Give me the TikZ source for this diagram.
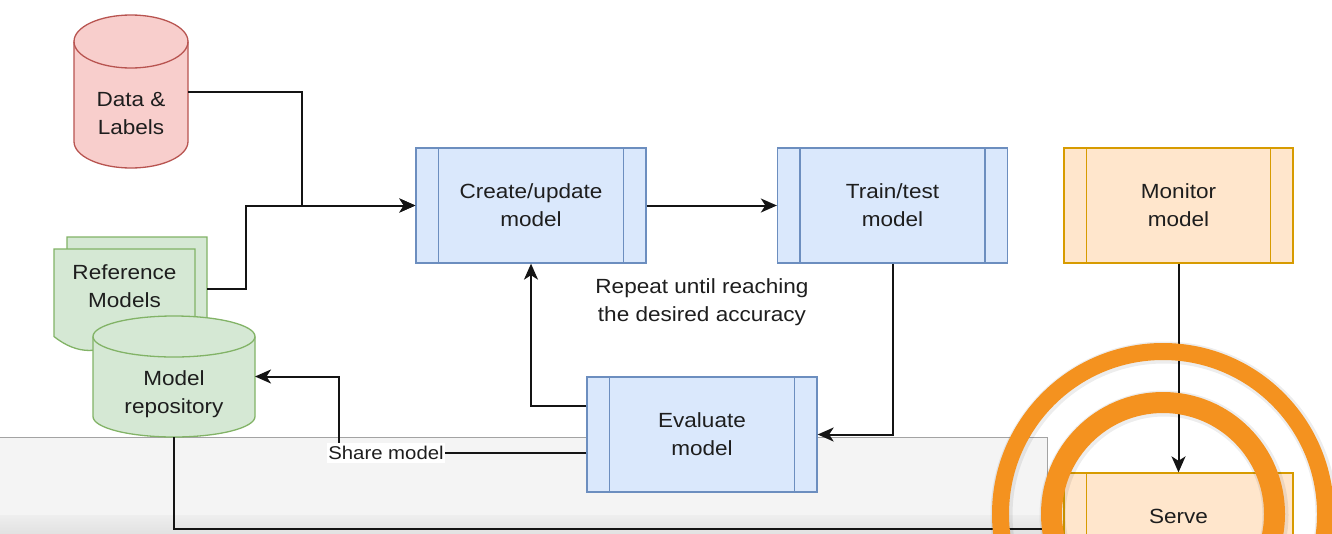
\documentclass[tikz,border=0pt]{standalone}
\usepackage{fontspec}
\setmainfont{Liberation Sans}[FakeStretch=1.1]
\usetikzlibrary{arrows.meta}

\definecolor{blueF}{HTML}{DAE8FC}
\definecolor{blueD}{HTML}{6C8EBF}
\definecolor{greenF}{HTML}{D5E8D4}
\definecolor{greenD}{HTML}{82B366}
\definecolor{redF}{HTML}{F8CECC}
\definecolor{redD}{HTML}{B85450}
\definecolor{orangeF}{HTML}{FFE6CC}
\definecolor{orangeD}{HTML}{D79B00}
\definecolor{ringC}{HTML}{F4921F}
\definecolor{stripF}{HTML}{F4F4F4}
\definecolor{stripA}{HTML}{EEEEEE}
\definecolor{stripB}{HTML}{E2E2E2}
\definecolor{stripD}{HTML}{A3A3A3}
\definecolor{txt}{HTML}{1E1E1E}

% cylinder: x1 y1 x2 y2 ry fill draw (y grows downwards)
\newcommand\cylpath[7]{%
  \pgfmathsetmacro\cyCx{(#1+#3)/2}%
  \pgfmathsetmacro\cyRx{(#3-#1)/2}%
  \pgfmathsetmacro\cyT{#2+#5}%
  \pgfmathsetmacro\cyB{#4-#5}%
  \pgfmathsetmacro\cyKx{0.5523*\cyRx}%
  \pgfmathsetmacro\cyKy{0.5523*#5}%
  \path[fill=#6, draw=#7, line width=1.3pt]
    (#1,\cyT) -- (#1,\cyB)
    .. controls (#1,{\cyB+\cyKy}) and ({\cyCx-\cyKx},#4) .. (\cyCx,#4)
    .. controls ({\cyCx+\cyKx},#4) and (#3,{\cyB+\cyKy}) .. (#3,\cyB)
    -- (#3,\cyT)
    .. controls (#3,{\cyT-\cyKy}) and ({\cyCx+\cyKx},#2) .. (\cyCx,#2)
    .. controls ({\cyCx-\cyKx},#2) and (#1,{\cyT-\cyKy}) .. (#1,\cyT) -- cycle;
  \draw[draw=#7, line width=1.3pt]
    (#1,\cyT)
    .. controls (#1,{\cyT+\cyKy}) and ({\cyCx-\cyKx},{\cyT+#5}) .. (\cyCx,{\cyT+#5})
    .. controls ({\cyCx+\cyKx},{\cyT+#5}) and (#3,{\cyT+\cyKy}) .. (#3,\cyT);
}

% document sheet with wavy bottom: x y w h fill draw
\newcommand\docshape[6]{%
  \path[fill=#5, draw=#6, line width=1.3pt]
    (#1,#2) -- ({#1+#3},#2) -- ({#1+#3},{#2+0.85*#4})
    .. controls ({#1+#3-#3/6},{#2+0.67*#4}) and ({#1+#3/2+#3/6},{#2+0.67*#4}) .. ({#1+#3/2},{#2+0.85*#4})
    .. controls ({#1+#3/2-#3/6},{#2+1.03*#4}) and ({#1+#3/6},{#2+1.03*#4}) .. (#1,{#2+0.85*#4})
    -- cycle;
}

\tikzset{
  procbox/.style 2 args={draw=#2, fill=#1, line width=1.3pt,
    minimum width=230pt, minimum height=115pt, inner sep=0pt, align=center,
    path picture={\draw[draw=#2, line width=1.3pt]
      ([xshift=22.5pt]path picture bounding box.north west) -- ([xshift=22.5pt]path picture bounding box.south west)
      ([xshift=-22.5pt]path picture bounding box.north east) -- ([xshift=-22.5pt]path picture bounding box.south east);}},
  hit/.style={shape=rectangle, inner sep=0pt, outer sep=0pt},
  lbl/.style={align=center, inner sep=0pt},
  conn/.style={draw=black!92, line width=2pt,
    -{Stealth[length=16pt, width=14pt, inset=4.5pt]}},
  sharelbl/.style={fill=white, inner xsep=1.5pt, inner ysep=3pt,
    font=\fontsize{18.5}{24}\selectfont},
  ring/.style={draw=ringC},
  ringshade/.style={draw=black, opacity=0.07},
}

\begin{document}
\begin{tikzpicture}[x=1pt, y=-1pt,
  every node/.style={font=\fontsize{20.5}{28}\selectfont, text=txt}]
\useasboundingbox (0,0) rectangle (1332,533);
\clip (0,0) rectangle (1332,533);
\fill[white] (0,0) rectangle (1332,533);

% grey panel along the bottom
\fill[stripF] (0,437) rectangle (1047,515);
\shade[top color=stripA, bottom color=stripB] (0,515) rectangle (1047,533);
\draw[stripD, line width=1pt] (0,437) -- (1047,437) -- (1047,533);

% stores and documents
\cylpath{74}{15}{188}{168}{26.5}{redF}{redD}
\docshape{67}{237}{140}{103}{greenF}{greenD}
\docshape{54}{249}{141}{103}{greenF}{greenD}
\cylpath{93}{316}{255}{437}{20.5}{greenF}{greenD}

\node[hit, minimum width=114pt, minimum height=153pt] (data) at (131,91.5) {};
\node[lbl] (datatext) at (131,114) {Data \&\\Labels};
\node[hit, minimum width=140pt, minimum height=103pt] (refm) at (137,288.5) {};
\node[lbl] (refmtext) at (124.5,286) {Reference\\Models};
\node[hit, minimum width=162pt, minimum height=121pt] (repo) at (174,376.5) {};
\node[lbl] (repotext) at (174,394.5) {Model\\repository};

% process steps
\node[procbox={blueF}{blueD}] (create) at (531,205.5) {Create/update\\model};
\node[procbox={blueF}{blueD}] (train) at (892.5,205.5) {Train/test\\model};
\node[procbox={blueF}{blueD}] (eval) at (702,434.5) {Evaluate\\model};
\node[procbox={orangeF}{orangeD}, minimum width=229pt] (monitor) at (1178.5,205.5) {Monitor\\model};
\node[procbox={orangeF}{orangeD}, minimum width=229pt] (serve) at (1178.5,530.5) {Serve\\\phantom{model}};

\node[lbl] (repeat) at (702,302) {Repeat until reaching\\the desired accuracy};

% connectors
\draw[conn] (data.east) -- ++(114,0) |- (create.west);
\draw[conn] (refm.east) -- ++(39,0) |- (create.west);
\draw[conn] (create.east) -- (train.west);
\draw[conn] (train.south) |- (eval.east);
\draw[conn] ([yshift=28.5pt]eval.west) -| (create.south);
\draw[conn] ([yshift=-18.5pt]eval.west) -- ++(-247,0) |- (repo.east);
\node[sharelbl] (share) at (386,453) {Share model};
\draw[conn] (repo.south) |- ([yshift=1.5pt]serve.west);
\draw[conn] (monitor.south) -- (serve.north);

% highlight rings
\draw[ringshade, line width=22pt] (1164,515) circle[radius=162.5pt];
\draw[ringshade, line width=26pt] (1164,515) circle[radius=111.5pt];
\draw[ring, line width=17pt] (1163,514) circle[radius=162.5pt];
\draw[ring, line width=21pt] (1163,514) circle[radius=111.5pt];
\end{tikzpicture}
\end{document}
